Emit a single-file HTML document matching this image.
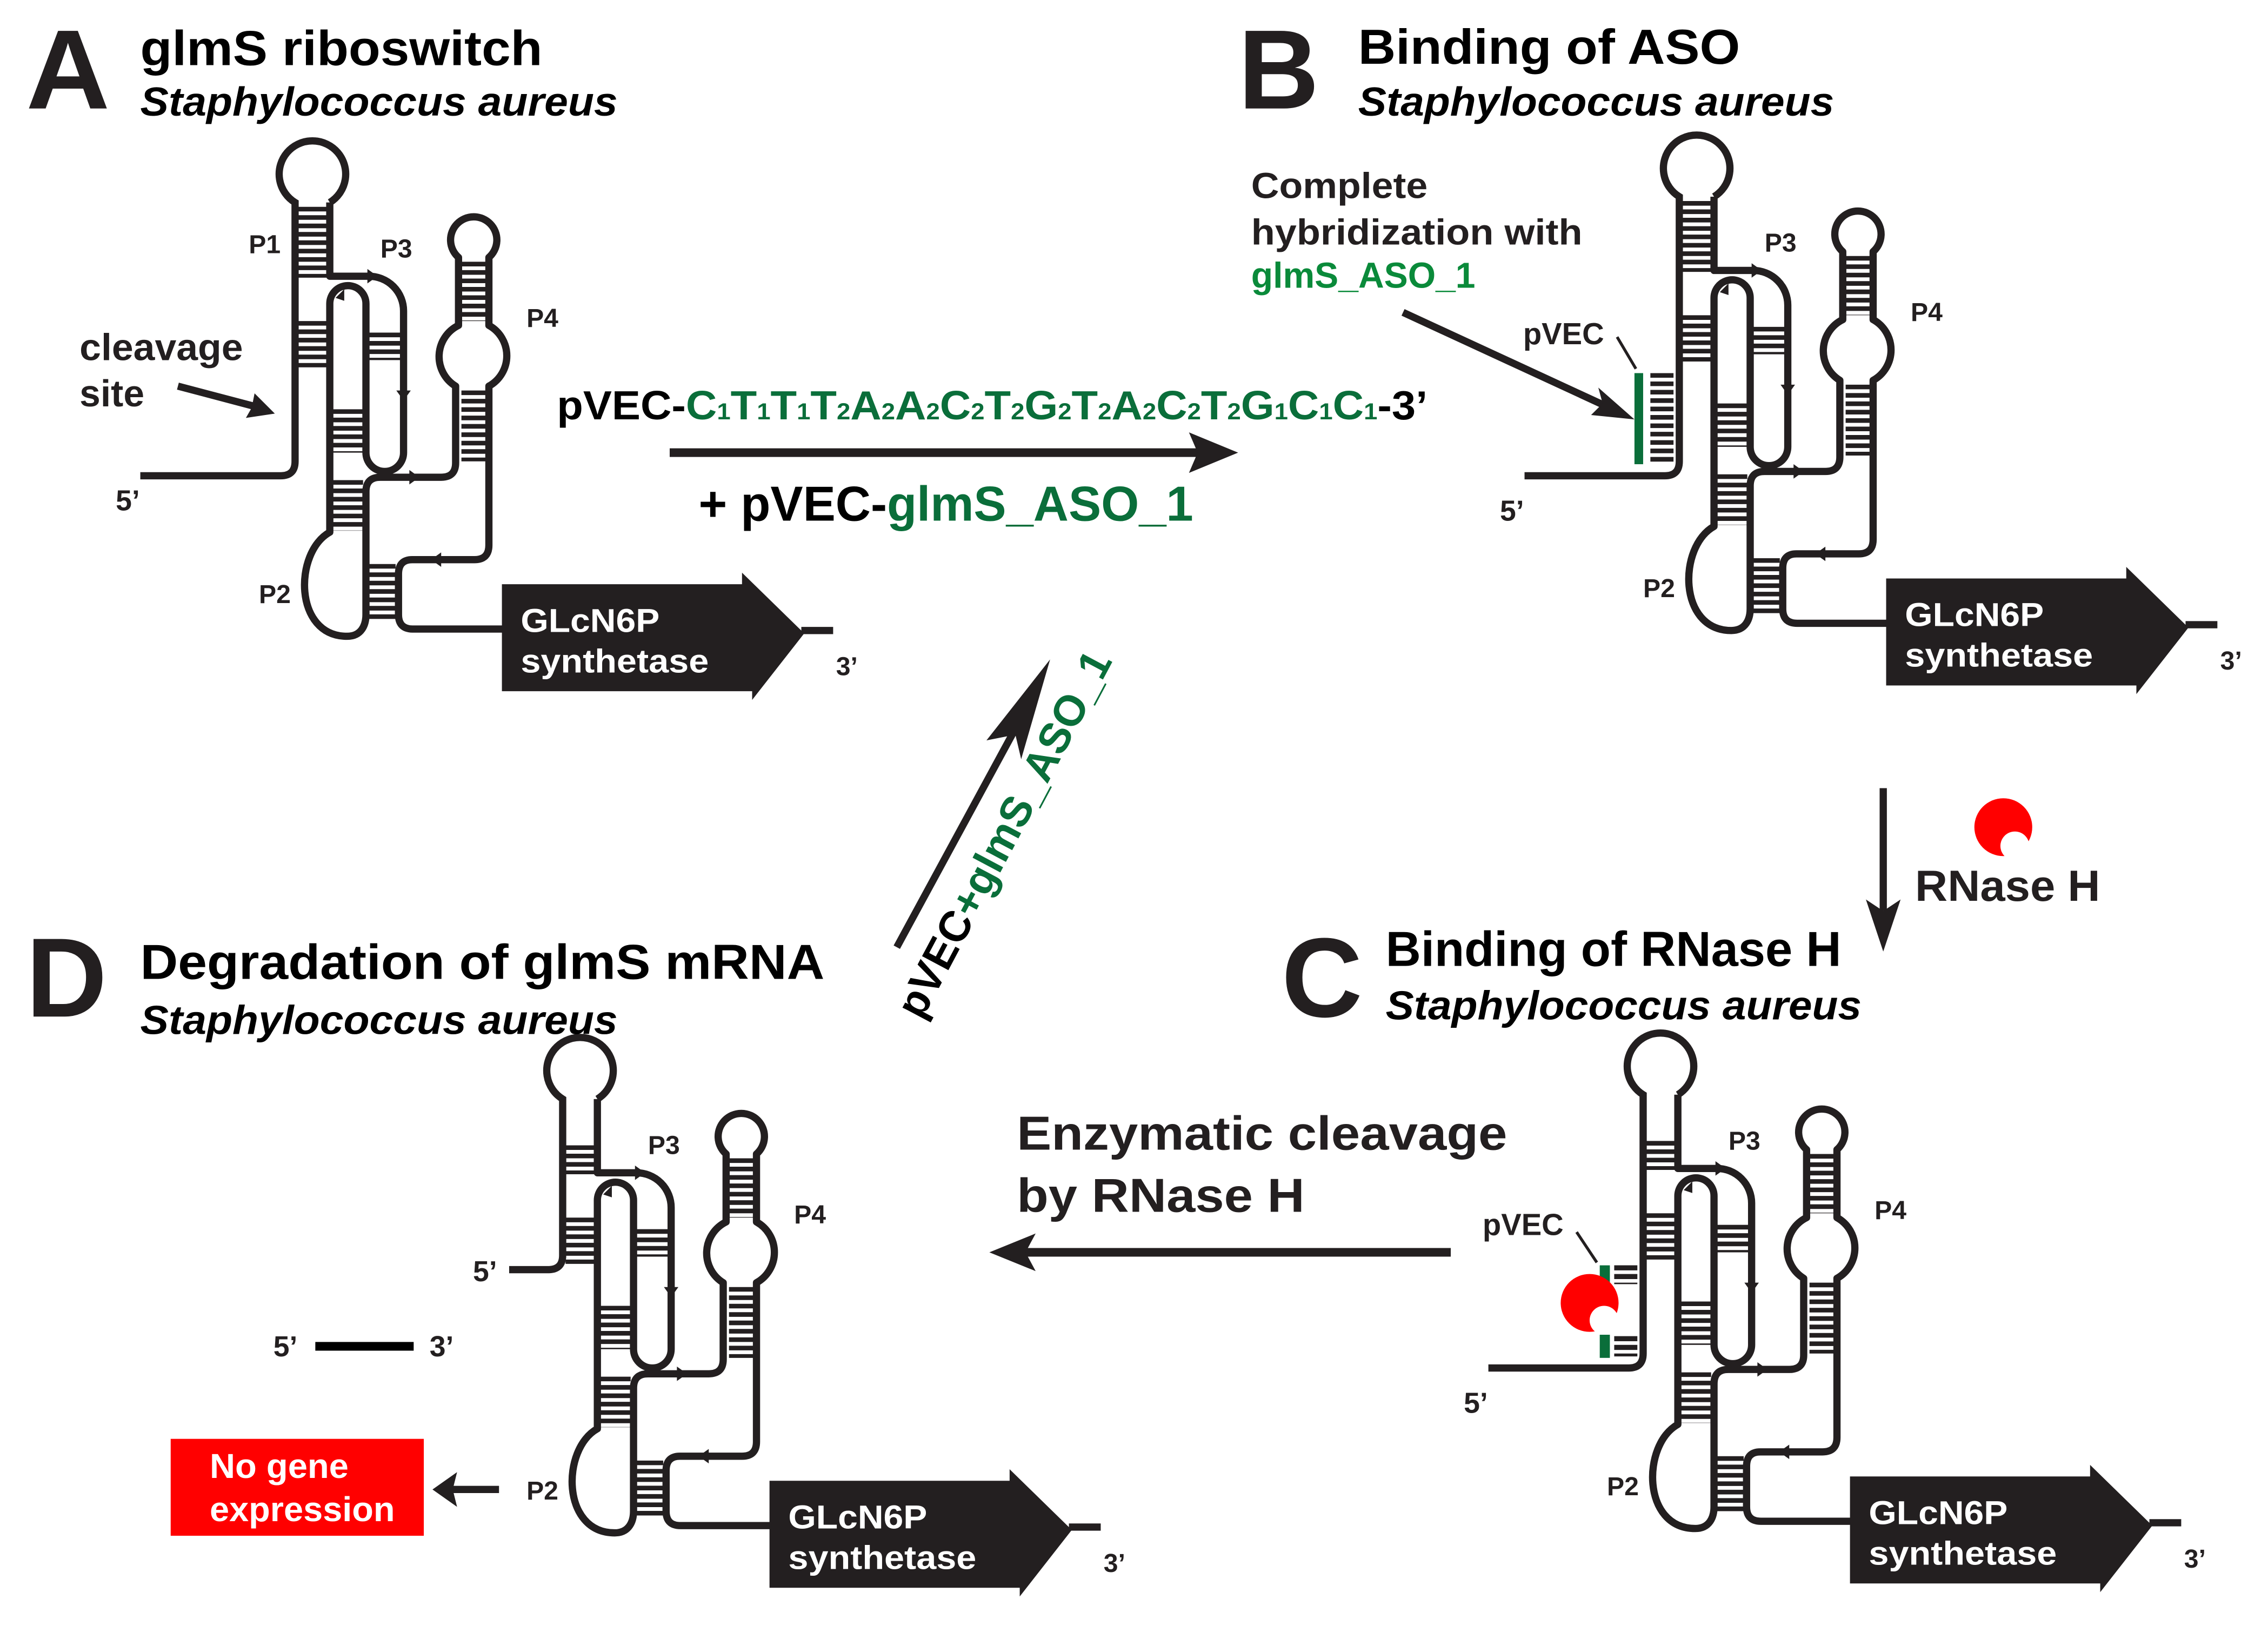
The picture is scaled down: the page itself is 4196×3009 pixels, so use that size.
<!DOCTYPE html>
<html><head><meta charset="utf-8"><style>html,body{margin:0;padding:0;background:#fff}svg{display:block}</style></head><body>
<svg xmlns="http://www.w3.org/2000/svg" xmlns:xlink="http://www.w3.org/1999/xlink" width="4196" height="3009" viewBox="0 0 1568 1124.4" font-family="Liberation Sans, Arial, sans-serif">
<rect width="1568" height="1124.4" fill="#fff"/>
<defs>
<g id="core">
  <path fill="none" stroke="#231f20" stroke-width="5" stroke-linejoin="round" d="M228,140 V191 H255 A24,24 0 0,1 279,215 V313 A13,13 0 0,1 253,313 V210 A12.5,12.5 0 0,0 228,210 V368 C203,382 203,440 240,440 C250,440 253,432 253,425 V340 Q253,330 263,330 H305 Q315,330 315,320 V267 A24,24 0 0,1 317,225 V178 A16,16 0 1,1 338,178 V225 A24,24 0 0,1 338,267 V377 Q338,387 328,387 H285 Q275.5,387 275.5,397 V425 Q275.5,435 285.5,435 H350"/>
  <g fill="none" stroke="#231f20" stroke-dasharray="3.2 2.6">
    <line x1="216" y1="222" x2="216" y2="254" stroke-width="20"/>
    <line x1="266" y1="230" x2="266" y2="249" stroke-width="22"/>
    <line x1="240.5" y1="283" x2="240.5" y2="313" stroke-width="21"/>
    <line x1="240.5" y1="332" x2="240.5" y2="367" stroke-width="21"/>
    <line x1="264" y1="390" x2="264" y2="428" stroke-width="19"/>
    <line x1="327.5" y1="181" x2="327.5" y2="222" stroke-width="17"/>
    <line x1="327.5" y1="270" x2="327.5" y2="319" stroke-width="17"/>
  </g>
  <g fill="#231f20">
    <path d="M254,186 L261,191 L254,196 Z"/>
    <path d="M238,200 L232,206 L238,208 Z"/>
    <path d="M274,270 L279,277 L284,270 Z"/>
    <path d="M283,325 L290,330 L283,335 Z"/>
    <path d="M305,382 L298,387 L305,392 Z"/>
  </g>
  <polygon fill="#231f20" points="347,404 513,404 513,396 556,438 520,484 520,478 347,478"/>
  <line x1="554" y1="436" x2="576" y2="436" stroke="#231f20" stroke-width="5"/>
  <text x="360" y="437" font-size="23" font-weight="bold" fill="#fff" textLength="96" lengthAdjust="spacingAndGlyphs">GLcN6P</text>
  <text x="360" y="465" font-size="23" font-weight="bold" fill="#fff" textLength="130" lengthAdjust="spacingAndGlyphs">synthetase</text>
  <g font-size="18" font-weight="bold" fill="#231f20">
    <text x="263" y="178">P3</text>
    <text x="364" y="226">P4</text>
    <text x="179" y="417">P2</text>
    <text x="578" y="467">3’</text>
  </g>
</g>
</defs>

<!-- Panel A -->
<g>
  <use xlink:href="#core"/>
  <path fill="none" stroke="#231f20" stroke-width="5" d="M97,329 H194 Q204,329 204,319 V140 A23,23 0 1,1 228,140"/>
  <line x1="216" y1="143" x2="216" y2="192" stroke="#231f20" stroke-width="20" stroke-dasharray="3.2 2.6"/>
  <g font-size="18" font-weight="bold" fill="#231f20"><text x="172" y="175">P1</text><text x="80" y="353" font-size="20">5’</text></g>
  <text x="55" y="249" font-size="26" font-weight="bold" fill="#231f20" textLength="113" lengthAdjust="spacingAndGlyphs">cleavage</text>
  <text x="55" y="281" font-size="26" font-weight="bold" fill="#231f20">site</text>
  <line x1="123" y1="267" x2="176" y2="281" stroke="#231f20" stroke-width="5"/>
  <polygon fill="#231f20" points="190,286 170,289 174,282 176,272"/>
</g>
<text x="18" y="75" font-size="78" font-weight="bold" fill="#231f20" textLength="58" lengthAdjust="spacingAndGlyphs">A</text>
<text x="97" y="45" font-size="34" font-weight="bold" fill="#000" textLength="278" lengthAdjust="spacingAndGlyphs">glmS riboswitch</text>
<text x="97" y="80" font-size="28" font-weight="bold" font-style="italic" fill="#000" textLength="330" lengthAdjust="spacingAndGlyphs">Staphylococcus aureus</text>

<!-- Panel B -->
<g transform="translate(957,-4)">
  <use xlink:href="#core"/>
  <path fill="none" stroke="#231f20" stroke-width="5" d="M97,333 H194 Q204,333 204,323 V140 A23,23 0 1,1 228,140"/>
  <line x1="216" y1="143" x2="216" y2="192" stroke="#231f20" stroke-width="20" stroke-dasharray="3.2 2.6"/>
  <line x1="192" y1="262" x2="192" y2="325" stroke="#231f20" stroke-width="16" stroke-dasharray="3.2 2.6"/>
  <rect x="173" y="262" width="6" height="63" fill="#0a6e3a"/>
  <text x="80" y="364" font-size="20" font-weight="bold" fill="#231f20">5’</text>
</g>
<text x="856" y="75" font-size="78" font-weight="bold" fill="#231f20" textLength="56" lengthAdjust="spacingAndGlyphs">B</text>
<text x="939" y="44" font-size="34" font-weight="bold" fill="#000" textLength="264" lengthAdjust="spacingAndGlyphs">Binding of ASO</text>
<text x="939" y="80" font-size="28" font-weight="bold" font-style="italic" fill="#000" textLength="329" lengthAdjust="spacingAndGlyphs">Staphylococcus aureus</text>
<g font-size="25" font-weight="bold" fill="#231f20">
  <text x="865" y="137" textLength="122" lengthAdjust="spacingAndGlyphs">Complete</text>
  <text x="865" y="169" textLength="229" lengthAdjust="spacingAndGlyphs">hybridization with</text>
  <text x="865" y="199" fill="#0a8a3a" textLength="155" lengthAdjust="spacingAndGlyphs">glmS_ASO_1</text>
</g>
<line x1="970" y1="216" x2="1115" y2="283" stroke="#231f20" stroke-width="5"/>
<polygon fill="#231f20" points="1130,290 1100,287 1108,279 1105,268"/>
<text x="1053" y="238" font-size="21" font-weight="bold" fill="#231f20">pVEC</text>
<line x1="1118" y1="233" x2="1131" y2="255" stroke="#231f20" stroke-width="2"/>

<!-- Panel C -->
<g transform="translate(932,617)">
  <use xlink:href="#core"/>
  <path fill="none" stroke="#231f20" stroke-width="5" d="M97,329 H194 Q204,329 204,319 V140 A23,23 0 1,1 228,140"/>
  <line x1="216" y1="172" x2="216" y2="192" stroke="#231f20" stroke-width="20" stroke-dasharray="3.2 2.6"/>
  <line x1="192" y1="258" x2="192" y2="271" stroke="#231f20" stroke-width="16" stroke-dasharray="3.5 2.5"/>
  <line x1="192" y1="307" x2="192" y2="321" stroke="#231f20" stroke-width="16" stroke-dasharray="3.5 2.5"/>
  <rect x="174" y="258" width="7" height="13" fill="#0a6e3a"/>
  <rect x="174" y="306" width="7" height="16" fill="#0a6e3a"/>
  <text x="80" y="360" font-size="20" font-weight="bold" fill="#231f20">5’</text>
</g>
<circle cx="1099" cy="901" r="20" fill="#f00"/>
<circle cx="1109" cy="913" r="10" fill="#fff"/>
<text x="1025" y="854" font-size="21" font-weight="bold" fill="#231f20">pVEC</text>
<line x1="1090" y1="852" x2="1104" y2="873" stroke="#231f20" stroke-width="2"/>
<text x="886" y="703" font-size="78" font-weight="bold" fill="#231f20" textLength="56" lengthAdjust="spacingAndGlyphs">C</text>
<text x="958" y="668" font-size="34" font-weight="bold" fill="#000" textLength="315" lengthAdjust="spacingAndGlyphs">Binding of RNase H</text>
<text x="958" y="705" font-size="28" font-weight="bold" font-style="italic" fill="#000" textLength="329" lengthAdjust="spacingAndGlyphs">Staphylococcus aureus</text>

<!-- Panel D -->
<g transform="translate(185,620)">
  <use xlink:href="#core"/>
  <path fill="none" stroke="#231f20" stroke-width="5" d="M167,258 H194 Q204,258 204,248 V140 A23,23 0 1,1 228,140"/>
  <line x1="216" y1="172" x2="216" y2="192" stroke="#231f20" stroke-width="20" stroke-dasharray="3.2 2.6"/>
  <text x="142" y="266" font-size="20" font-weight="bold" fill="#231f20">5’</text>
</g>
<text x="18" y="703" font-size="78" font-weight="bold" fill="#231f20" textLength="56" lengthAdjust="spacingAndGlyphs">D</text>
<text x="97" y="677" font-size="34" font-weight="bold" fill="#000" textLength="473" lengthAdjust="spacingAndGlyphs">Degradation of glmS mRNA</text>
<text x="97" y="715" font-size="28" font-weight="bold" font-style="italic" fill="#000" textLength="330" lengthAdjust="spacingAndGlyphs">Staphylococcus aureus</text>
<line x1="218" y1="931" x2="286" y2="931" stroke="#000" stroke-width="6"/>
<text x="189" y="938" font-size="20" font-weight="bold" fill="#231f20">5’</text>
<text x="297" y="938" font-size="20" font-weight="bold" fill="#231f20">3’</text>
<rect x="118" y="995" width="175" height="67" fill="#f00"/>
<text x="145" y="1022" font-size="24" font-weight="bold" fill="#fff" textLength="96" lengthAdjust="spacingAndGlyphs">No gene</text>
<text x="145" y="1052" font-size="24" font-weight="bold" fill="#fff" textLength="128" lengthAdjust="spacingAndGlyphs">expression</text>
<line x1="345" y1="1030" x2="312" y2="1030" stroke="#231f20" stroke-width="5"/>
<polygon fill="#231f20" points="299,1030 316,1018 313,1030 316,1042"/>

<!-- middle: top arrow -->
<text x="385" y="290" font-size="28" font-weight="bold" fill="#000" textLength="602" lengthAdjust="spacingAndGlyphs">pVEC-<tspan fill="#0a6e3a">C<tspan font-size="16">1</tspan>T<tspan font-size="16">1</tspan>T<tspan font-size="16">1</tspan>T<tspan font-size="16">2</tspan>A<tspan font-size="16">2</tspan>A<tspan font-size="16">2</tspan>C<tspan font-size="16">2</tspan>T<tspan font-size="16">2</tspan>G<tspan font-size="16">2</tspan>T<tspan font-size="16">2</tspan>A<tspan font-size="16">2</tspan>C<tspan font-size="16">2</tspan>T<tspan font-size="16">2</tspan>G<tspan font-size="16">1</tspan>C<tspan font-size="16">1</tspan>C<tspan font-size="16">1</tspan></tspan>-3’</text>
<line x1="463" y1="313" x2="830" y2="313" stroke="#231f20" stroke-width="6"/>
<polygon fill="#231f20" points="822,299 856,313 822,327 828,313"/>
<text x="483" y="360" font-size="34" font-weight="bold" fill="#000" textLength="342" lengthAdjust="spacingAndGlyphs">+ pVEC-<tspan fill="#0a6e3a">glmS_ASO_1</tspan></text>

<!-- diagonal arrow -->
<line x1="620" y1="655" x2="703" y2="502" stroke="#231f20" stroke-width="5"/>
<polygon fill="#231f20" points="726,456 706,525 702,508 682,512"/>
<text x="637" y="706" transform="rotate(-62 637 706)" font-size="30" font-weight="bold" fill="#000" textLength="282" lengthAdjust="spacingAndGlyphs">pVEC<tspan fill="#0a6e3a">+glmS_ASO_1</tspan></text>

<!-- right vertical arrow -->
<line x1="1302" y1="545" x2="1302" y2="630" stroke="#231f20" stroke-width="5"/>
<polygon fill="#231f20" points="1302,658 1290,622 1302,630 1314,622"/>
<circle cx="1385" cy="572" r="20" fill="#f00"/>
<circle cx="1393" cy="585" r="10" fill="#fff"/>
<text x="1324" y="623" font-size="30" font-weight="bold" fill="#231f20" textLength="128" lengthAdjust="spacingAndGlyphs">RNase H</text>

<!-- bottom arrow -->
<text x="703" y="795" font-size="33" font-weight="bold" fill="#231f20" textLength="339" lengthAdjust="spacingAndGlyphs">Enzymatic cleavage</text>
<text x="703" y="838" font-size="33" font-weight="bold" fill="#231f20" textLength="199" lengthAdjust="spacingAndGlyphs">by RNase H</text>
<line x1="1003" y1="866" x2="705" y2="866" stroke="#231f20" stroke-width="6"/>
<polygon fill="#231f20" points="684,866 716,853 709,866 716,879"/>
</svg>
</body></html>
